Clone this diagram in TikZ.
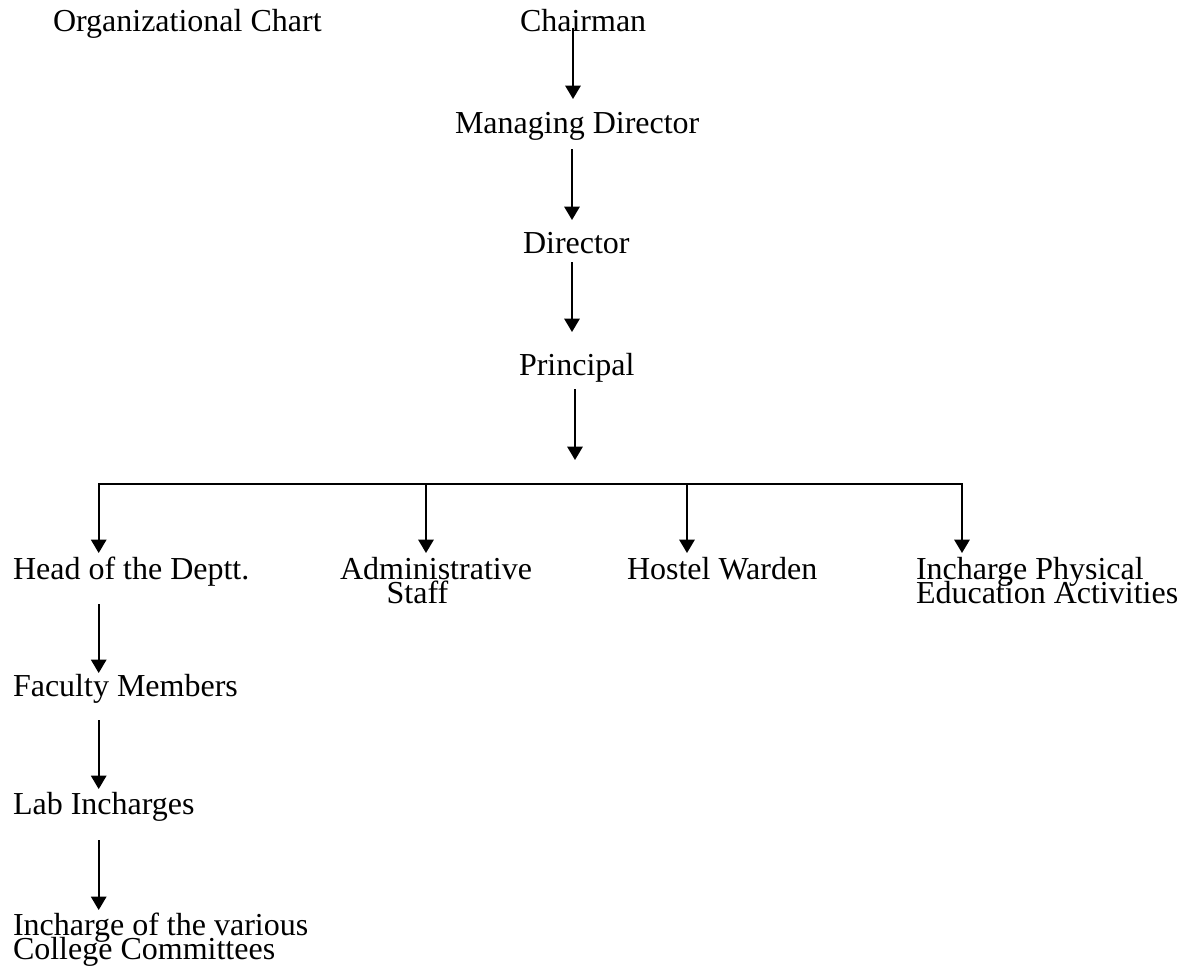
\documentclass[tikz,border=0pt]{standalone}
\usepackage{fontspec}
\setmainfont{Liberation Serif}
\usetikzlibrary{arrows.meta,calc}
\newcommand\lblfont{\fontsize{24pt}{18pt}\selectfont\lineskiplimit=-40pt\relax\lineskip=0pt\relax}
\begin{document}
\begin{tikzpicture}[x=0.75pt,y=-0.75pt,
  lbl/.style={anchor=base west,inner sep=0pt,outer sep=0pt,font=\lblfont},
  arr/.style={line width=1.4pt,-{Triangle[width=11.5pt,length=10pt]}}]
\useasboundingbox (0,0) rectangle (1191,971);
% labels (multi-line labels are placed by the baseline of their last line)
\node[lbl] (title) at (53,31) {Organizational Chart};
\node[lbl] (chair) at (520,31) {Chairman};
\node[lbl] (md) at (455,133) {Managing Director};
\node[lbl] (dir) at (523,253) {Director};
\node[lbl] (prin) at (519,375) {Principal};
\node[lbl] (head) at (13,579) {Head of the Deptt.};
\node[lbl,align=left] (admin) at (340,603) {Administrative\\\hspace*{35pt}Staff};
\node[lbl] (hostel) at (627,579) {Hostel Warden};
\node[lbl,align=left] (pe) at (916,603) {Incharge Physical\\Education Activities};
\node[lbl] (fac) at (13,696) {Faculty Members};
\node[lbl] (lab) at (13,814) {Lab Incharges};
\node[lbl,align=left] (comm) at (13,959) {Incharge of the various\\College Committees};
% vertical chain
\draw[arr] ($(chair.base west)+(53,-3)$) -- ($(md.base west)+(118,-34)$);
\draw[arr] ($(md.base west)+(117,16)$) -- ($(dir.base west)+(49,-33)$);
\draw[arr] ($(dir.base west)+(49,9)$) -- ($(prin.base west)+(53,-43)$);
\coordinate (pend) at (575,460);
\draw[arr] ($(prin.base west)+(56,14)$) -- (pend);
% bus
\coordinate (jc) at (575,484);
\coordinate (ja) at (426,484);
\coordinate (jh) at (687,484);
\draw[arr] (jc) -| ($(head.base west)+(85.7,-26)$);
\draw[arr] (jc) -| ($(pe.base west)+(46,-50)$);
\draw[arr] (ja) -- ($(admin.base west)+(86,-50)$);
\draw[arr] (jh) -- ($(hostel.base west)+(60,-26)$);
% left column
\draw[arr] ($(head.base west)+(85.7,25)$) -- ($(fac.base west)+(85.7,-23)$);
\draw[arr] ($(fac.base west)+(85.7,24)$) -- ($(lab.base west)+(85.7,-25)$);
\draw[arr] ($(lab.base west)+(85.7,26)$) -- ($(comm.base west)+(85.7,-49)$);
\end{tikzpicture}
\end{document}
